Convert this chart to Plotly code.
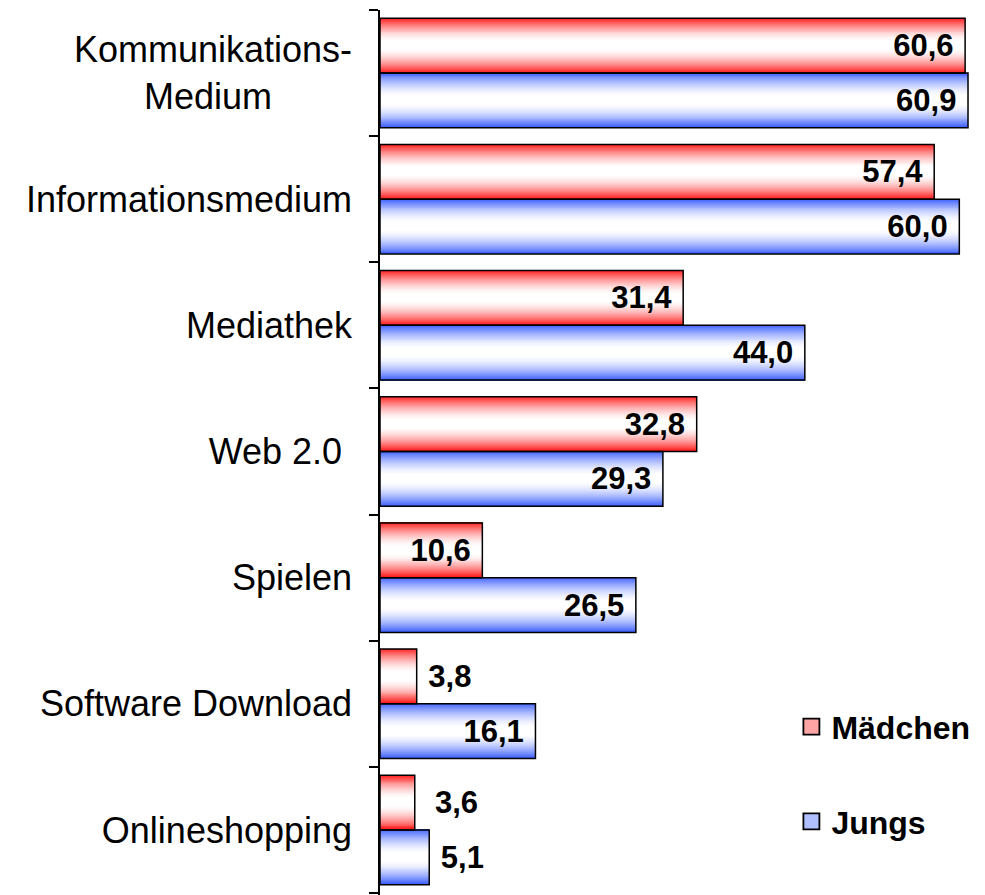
import plotly.graph_objects as go

# ---------------- data ----------------
categories = ["Kommunikations-Medium", "Informationsmedium", "Mediathek", "Web 2.0",
              "Spielen", "Software Download", "Onlineshopping"]
tick_labels = ["Kommunikations-<br>Medium" + "\u00a0" * 8, "Informationsmedium", "Mediathek",
               "Web 2.0\u00a0", "Spielen", "Software Download", "Onlineshopping"]
maedchen = [60.6, 57.4, 31.4, 32.8, 10.6, 3.8, 3.6]
jungs = [60.9, 60.0, 44.0, 29.3, 26.5, 16.1, 5.1]
series_names = ["Mädchen", "Jungs"]

# ---------------- styling ----------------
FONT = "Liberation Sans, Arial, sans-serif"
W = 0.434          # height of one bar in category units
N = 56             # gradient strips per bar
RED_EDGE = (255, 25, 25)
BLUE_EDGE = (60, 95, 255)


def strip_color(edge, s):
    d = abs(s - 0.5) * 2
    b = max(0.0, (d - 0.12) / 0.88) ** 1.6
    c = [round(255 * (1 - b) + e * b) for e in edge]
    return f"rgb({c[0]},{c[1]},{c[2]})"


def fmt(v):
    return f"{v:.1f}".replace(".", ",")


def label_text(v):
    if v < 8:
        pad = "\u00a0\u00a0" if v < 3.7 else "\u00a0"
        return pad + fmt(v), "outside"
    return fmt(v) + "\u00a0", "inside"


fig = go.Figure()

series = [(maedchen, RED_EDGE, -W, "#ffa4a4"), (jungs, BLUE_EDGE, 0.0, "#b0bfff")]

for vals, edge, base_off, _ in series:
    for i in range(N):
        s = (i + 0.5) / N
        w = W / N * (1.6 if i < N - 1 else 1.0)
        fig.add_trace(go.Bar(
            orientation="h", y=categories, x=vals,
            offset=base_off + i * W / N, width=w,
            marker=dict(color=strip_color(edge, s), line=dict(width=0)),
            showlegend=False, hoverinfo="skip",
        ))

for (vals, edge, base_off, _), name in zip(series, series_names):
    texts, positions = zip(*[label_text(v) for v in vals])
    fig.add_trace(go.Bar(
        orientation="h", y=categories, x=vals, name=name,
        offset=base_off, width=W,
        marker=dict(color="rgba(0,0,0,0)", line=dict(color="black", width=1.5)),
        text=list(texts), textposition=list(positions),
        insidetextanchor="end",
        textfont=dict(family=FONT, size=31, color="black", weight="bold"),
        cliponaxis=False, showlegend=False,
    ))

# legend entries
for (vals, edge, base_off, lc), name, lg in zip(series, series_names, ["legend", "legend2"]):
    fig.add_trace(go.Scatter(
        x=[None], y=[None], mode="markers", name=name, legend=lg,
        marker=dict(symbol="square", size=16, color=lc, line=dict(color="black", width=1.8)),
    ))

legend_common = dict(
    xanchor="left", yanchor="middle", bgcolor="rgba(0,0,0,0)",
    font=dict(family=FONT, size=32, color="black", weight="bold"),
    itemclick=False, itemdoubleclick=False,
)

# the page body adds an 8px margin, so the figure is 8px smaller and margins shifted
fig.update_layout(
    width=977, height=887,
    margin=dict(l=372, r=0, t=2, b=0),
    paper_bgcolor="white", plot_bgcolor="white",
    barmode="overlay",
    showlegend=True,
    legend=dict(x=0.68, y=0.19, **legend_common),
    legend2=dict(x=0.68, y=0.083, **legend_common),
    font=dict(family=FONT, color="black"),
    xaxis=dict(visible=False, range=[0, 62.66], showgrid=False, zeroline=False),
    yaxis=dict(
        type="category", categoryorder="array", categoryarray=categories,
        tickmode="array", tickvals=categories, ticktext=tick_labels,
        range=[6.516, -0.5], autorange=False,
        showline=True, linecolor="black", linewidth=1.5,
        ticks="outside", ticklen=9, tickwidth=1.5, tickcolor="black",
        tickson="boundaries", ticklabelstandoff=19,
        tickfont=dict(family=FONT, size=36, color="black"),
        showgrid=False, zeroline=False, automargin=False,
    ),
)

fig.write_html("out.html")
